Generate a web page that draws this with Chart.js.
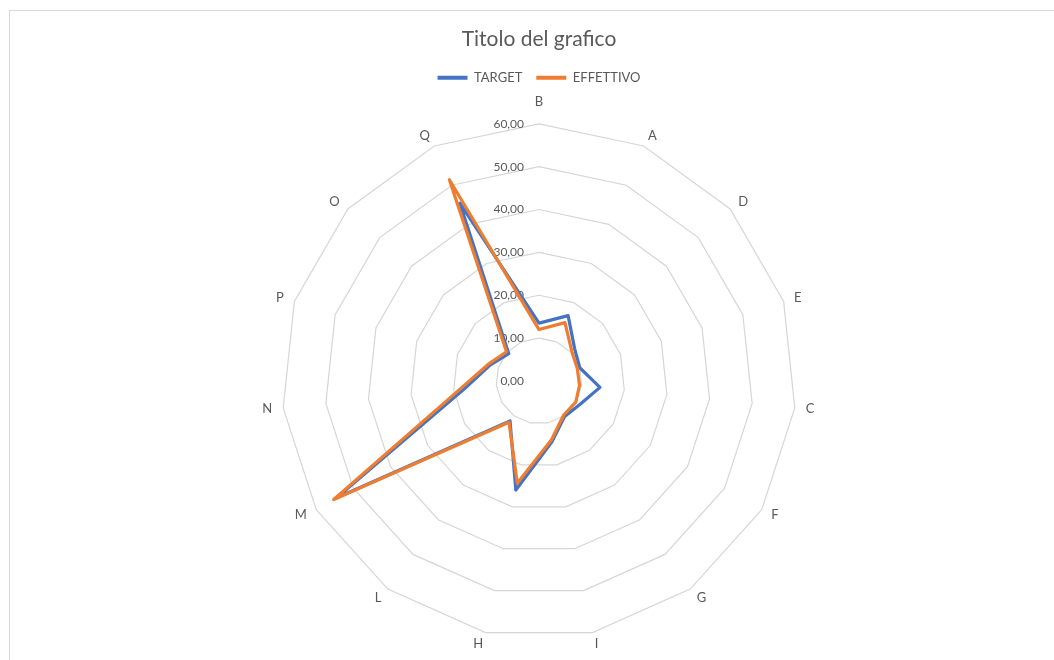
<!DOCTYPE html>
<html>
<head>
<meta charset="utf-8">
<script src="https://cdn.jsdelivr.net/npm/chart.js@4/dist/chart.umd.min.js"></script>
<style>
  html, body { margin: 0; padding: 0; background: #fff; overflow: hidden; }
  #frame {
    position: absolute; left: 9px; top: 10px;
    width: 1100px; height: 700px;
    border-left: 1px solid #d9d9d9; border-top: 1px solid #d9d9d9;
  }
  #wrap { position: absolute; left: 12px; top: 0; width: 1054px; height: 663px; }
</style>
</head>
<body>
<div id="frame"></div>
<div id="wrap"><canvas id="radar"></canvas></div>
<script>
const categories = ["B", "A", "D", "E", "C", "F", "G", "I", "H", "L", "M", "N", "P", "O", "Q"];
const target     = [13.5, 16.7, 11.2, 10.0, 14.3, 11.0, 10.2, 14.5, 26.0, 11.5, 54.6, 17.5, 12.0, 9.5, 45.4];
const effettivo  = [12.0, 14.9, 10.3, 9.4, 9.5, 9.9, 9.8, 14.0, 24.4, 11.9, 55.3, 18.6, 12.5, 10.2, 51.4];
const tickValues = [0, 10, 20, 30, 40, 50, 60];

const FONT = "Lato, 'Open Sans', sans-serif";
const GREY_TEXT = "#595959";
const LABEL_GAP = 11;

// axis numbers sit just left of the vertical axis, like an office chart
const tickLabels = {
  id: "tickLabels",
  beforeDatasetsDraw(chart) {
    const r = chart.scales.r;
    const ctx = chart.ctx;
    ctx.save();
    ctx.font = "12px " + FONT;
    ctx.fillStyle = GREY_TEXT;
    ctx.textAlign = "right";
    ctx.textBaseline = "middle";
    tickValues.forEach(v => {
      const d = r.getDistanceFromCenterForValue(v);
      ctx.fillText(v.toFixed(2).replace(".", ","), r.xCenter - 15, r.yCenter - d);
    });
    ctx.restore();
  }
};

// category names centred vertically on their anchor point instead of
// sitting above / below it (chart.js keeps its own labels for sizing only)
const categoryLabels = {
  id: "categoryLabels",
  beforeDatasetsDraw(chart) {
    const r = chart.scales.r;
    const ctx = chart.ctx;
    ctx.save();
    ctx.font = "13px " + FONT;
    ctx.fillStyle = GREY_TEXT;
    ctx.textBaseline = "middle";
    categories.forEach((name, i) => {
      const p = r.getPointPosition(i, r.drawingArea + LABEL_GAP);
      const deg = Math.round(r.getIndexAngle(i) * 180 / Math.PI) % 360;
      let align = "center";
      if (deg > 0 && deg < 180) align = "left";
      else if (deg > 180) align = "right";
      ctx.textAlign = align;
      ctx.fillText(name, p.x, deg === 0 ? p.y - 11 : p.y);
    });
    ctx.restore();
  }
};

const ctx = document.getElementById("radar").getContext("2d");

new Chart(ctx, {
  type: "radar",
  data: {
    labels: categories,
    datasets: [
      {
        label: "TARGET",
        data: target,
        borderColor: "#4472C4",
        backgroundColor: "#4472C4",
        borderWidth: 3.2,
        borderJoinStyle: "round",
        fill: false,
        pointRadius: 0,
        tension: 0,
        order: 1
      },
      {
        label: "EFFETTIVO",
        data: effettivo,
        borderColor: "#ED7D31",
        backgroundColor: "#ED7D31",
        borderWidth: 3.2,
        borderJoinStyle: "round",
        fill: false,
        pointRadius: 0,
        tension: 0,
        order: 0 // orange line drawn over the blue one
      }
    ]
  },
  options: {
    responsive: true,
    maintainAspectRatio: false,
    animation: false,
    layout: { padding: 0 },
    plugins: {
      title: {
        display: true,
        text: "Titolo del grafico",
        color: GREY_TEXT,
        font: { family: FONT, size: 21, weight: "normal" },
        padding: { top: 27, bottom: 5 }
      },
      legend: {
        display: true,
        position: "top",
        labels: {
          color: GREY_TEXT,
          font: { family: FONT, size: 13 },
          boxWidth: 30,
          boxHeight: 4,
          padding: 14,
          sort: (a, b) => a.datasetIndex - b.datasetIndex,
          generateLabels(chart) {
            return Chart.defaults.plugins.legend.labels.generateLabels(chart)
              .map(item => Object.assign(item, { lineWidth: 0 }));
          }
        }
      },
      tooltip: { enabled: false }
    },
    scales: {
      r: {
        min: 0,
        max: 60,
        beginAtZero: true,
        ticks: { stepSize: 10, display: false },
        grid: { color: "#d6d6d6", lineWidth: 1.2 },
        angleLines: { display: false },
        pointLabels: {
          color: "rgba(0,0,0,0)",
          font: { family: FONT, size: 13 },
          padding: LABEL_GAP
        }
      }
    }
  },
  plugins: [tickLabels, categoryLabels]
});
</script>
</body>
</html>
